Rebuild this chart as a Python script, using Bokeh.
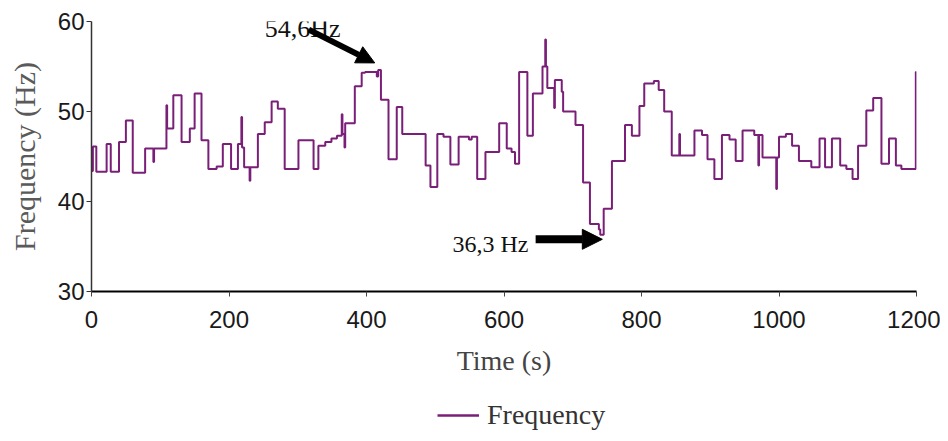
from bokeh.plotting import figure
from bokeh.layouts import column
from bokeh.embed import file_html
from bokeh.resources import INLINE
from bokeh.models import (Range1d, Label, Arrow, NormalHead, Legend, LegendItem,
                          FixedTicker)

# ---- data: step changes of the frequency (time in s, value in Hz from that time on)
time_s = [0, 2, 7, 22, 28, 40, 50, 60, 78, 90, 91, 109, 110, 119, 131, 143, 150, 160,
          170, 182, 191, 203, 213, 218, 219, 222, 230, 231, 242, 252, 262, 271, 281,
          301, 323, 330, 340, 349, 357, 364, 365, 368, 369, 383, 393, 398, 415, 417,
          421, 432, 444, 452, 486, 493, 503, 512, 522, 534, 549, 553, 561, 573, 593,
          604, 611, 616, 622, 634, 642, 656, 660, 661, 663, 673, 674, 684, 686, 704,
          715, 725, 738, 740, 745, 757, 776, 786, 797, 804, 818, 825, 833, 844, 855,
          856, 877, 888, 896, 906, 917, 928, 937, 947, 964, 970, 971, 976, 996, 997,
          1000, 1010, 1019, 1029, 1047, 1059, 1067, 1077, 1089, 1098, 1107, 1115, 1127,
          1137, 1149, 1160, 1170, 1178, 1199, 1200]
freq_hz = [43.4, 46.1, 43.3, 46.4, 43.3, 46.6, 49.0, 43.2, 45.9, 44.4, 45.9, 50.7, 48.1,
           51.8, 46.6, 48.1, 52.0, 46.8, 43.6, 43.9, 46.4, 43.6, 46.4, 49.4, 46.0, 43.8,
           42.3, 43.8, 47.5, 48.8, 51.1, 50.3, 43.6, 46.8, 43.6, 46.2, 46.6, 47.0, 47.3,
           49.7, 47.5, 46.0, 48.7, 52.8, 54.3, 54.4, 53.9, 54.6, 51.3, 44.7, 50.5, 47.5,
           44.0, 41.6, 47.5, 47.2, 44.1, 47.2, 46.9, 47.2, 42.5, 45.5, 48.7, 45.9, 45.5,
           44.2, 54.4, 47.3, 52.0, 55.0, 58.0, 55.0, 52.6, 50.4, 53.5, 52.2, 50.0, 48.5,
           42.1, 37.5, 36.9, 36.3, 39.2, 44.5, 48.5, 47.3, 50.6, 53.1, 53.4, 52.4, 50.0,
           45.1, 47.5, 45.1, 47.9, 47.4, 44.7, 42.5, 47.4, 46.9, 44.5, 47.9, 47.4, 44.0,
           47.4, 44.9, 41.4, 44.9, 47.2, 47.5, 46.2, 44.5, 43.8, 47.0, 43.8, 47.0, 44.0,
           43.6, 42.5, 46.2, 50.1, 51.5, 44.2, 47.0, 44.0, 43.6, 54.4, 54.4]

x_ticks = [0, 200, 400, 600, 800, 1000, 1200]
y_ticks = [30, 40, 50, 60]

series_label = "Frequency"
note_high = "54,6Hz"
note_low = "36,3 Hz"

LINE_COLOR = "#7a1f78"

p = figure(frame_width=825, frame_height=270, output_backend="svg", toolbar_location=None,
           x_range=Range1d(0, 1200), y_range=Range1d(30, 60),
           min_border_left=91, min_border_right=24, min_border_top=21,
           min_border_bottom=97)
p.outline_line_color = None
p.xgrid.grid_line_color = None
p.ygrid.grid_line_color = None
p.background_fill_color = "white"

r = p.step(time_s, freq_hz, mode="after", line_color=LINE_COLOR, line_width=2)

# axes
p.xaxis.ticker = FixedTicker(ticks=x_ticks)
p.yaxis.ticker = FixedTicker(ticks=y_ticks)
p.xaxis.axis_label = "Time (s)"
p.yaxis.axis_label = "Frequency (Hz)"
for ax in (p.xaxis[0], p.yaxis[0]):
    ax.axis_label_text_font = "Liberation Serif"
    ax.axis_label_text_font_style = "normal"
    ax.major_label_text_font = "Liberation Sans"
    ax.major_label_text_font_size = "24px"
    ax.major_label_text_color = "#1a1a1a"
    ax.minor_tick_line_color = None
    ax.major_tick_in = 0
    ax.major_tick_out = 5
p.xaxis.axis_label_text_font_size = "28px"
p.yaxis.axis_label_text_font_size = "30px"
p.xaxis.major_label_standoff = 14
p.xaxis.axis_label_standoff = 14
p.yaxis.major_label_standoff = 2
p.yaxis.axis_label_standoff = 14
p.xaxis.axis_line_color = "black"
p.xaxis.axis_line_width = 2
p.xaxis.major_tick_line_color = "#444444"
p.xaxis.axis_label_text_color = "#444444"
p.yaxis.axis_line_color = "#333333"
p.yaxis.axis_line_width = 1.5
p.yaxis.major_tick_line_color = "#333333"
p.yaxis.axis_label_text_color = "#5a5a5a"

# annotations
p.add_layout(Label(x=252, y=59.2, text=note_high, text_font="Liberation Serif",
                   text_font_size="26px", text_color="#111111",
                   text_baseline="middle", text_align="left"))
p.add_layout(Arrow(end=NormalHead(size=18, fill_color="black", line_color="black"),
                   x_start=316, y_start=59.1, x_end=412, y_end=55.4,
                   line_width=6, line_color="black"))
p.add_layout(Label(x=525, y=35.3, text=note_low, text_font="Liberation Serif",
                   text_font_size="24px", text_color="#111111",
                   text_baseline="middle", text_align="left"))
p.add_layout(Arrow(end=NormalHead(size=20, fill_color="black", line_color="black"),
                   x_start=646, y_start=35.8, x_end=743, y_end=35.8,
                   line_width=8, line_color="black"))

# legend strip below the chart (a separate, axis-less figure)
p2 = figure(width=940, height=52, output_backend="svg", toolbar_location=None,
            x_range=Range1d(0, 1), y_range=Range1d(0, 1),
            x_axis_type=None, y_axis_type=None, min_border=0)
p2.outline_line_color = None
p2.xgrid.grid_line_color = None
p2.ygrid.grid_line_color = None
# key line lies outside the visible range: only its legend sample is seen
key = p2.line(x=[-2, -1], y=[-2, -2], line_color=LINE_COLOR, line_width=2.5)
legend = Legend(items=[LegendItem(label=series_label, renderers=[key])],
                location=(346, 9), padding=4, margin=0,
                glyph_width=42, glyph_height=20, label_standoff=8,
                label_text_font="Liberation Serif", label_text_font_size="28px",
                label_text_color="#333333", border_line_color=None,
                background_fill_alpha=0)
p2.add_layout(legend)

layout = column(p, p2, spacing=0)
open("out.html", "w").write(file_html(layout, INLINE))
